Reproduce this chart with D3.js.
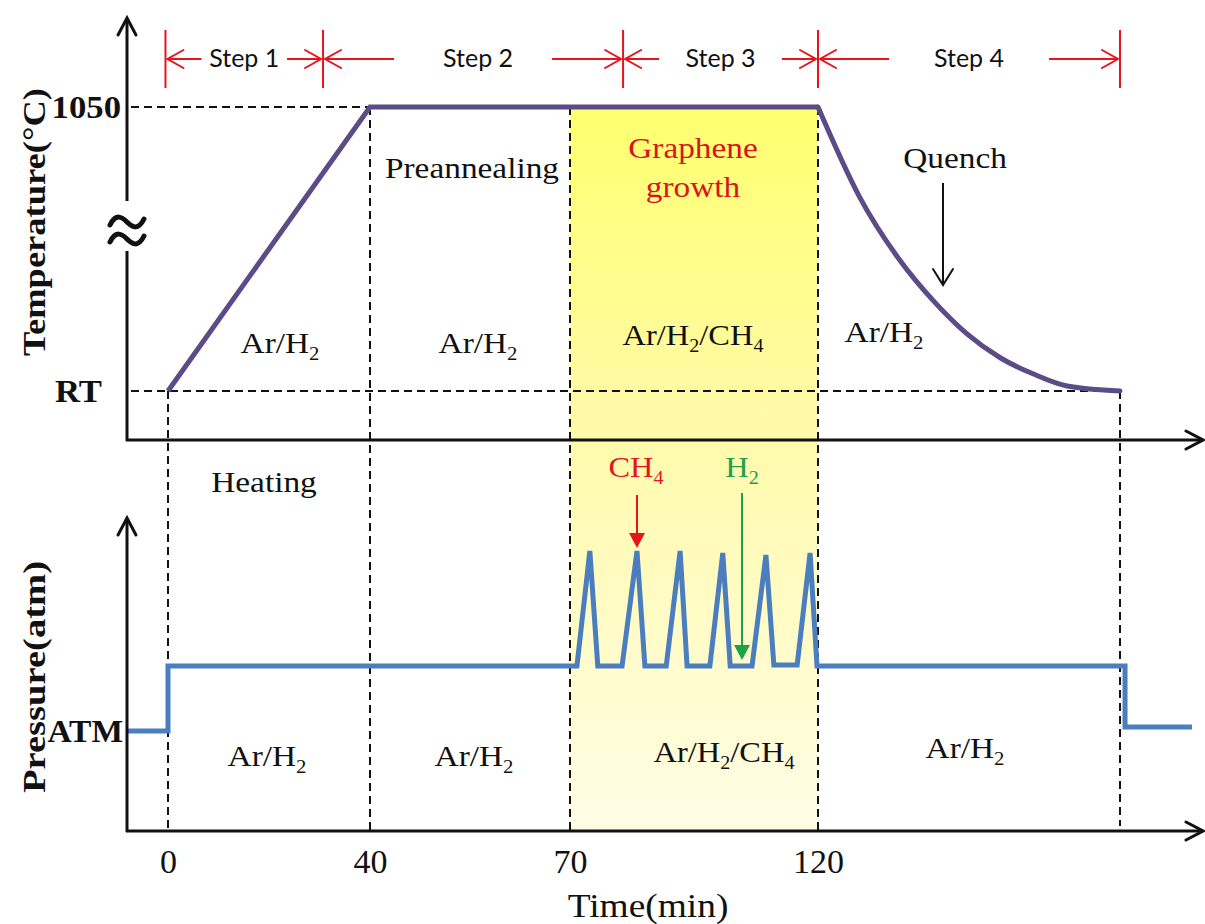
<!DOCTYPE html>
<html>
<head>
<meta charset="utf-8">
<script src="https://cdn.jsdelivr.net/npm/d3@7"></script>
<style>
  body { margin: 0; background: #fff; }
  svg { display: block; }
</style>
</head>
<body>
<div id="chart"></div>
<script>
const WIDTH = 1205;
const HEIGHT = 924;
const SERIF = "'Liberation Serif', 'Times New Roman', serif";
const SANS = "Lato, 'Liberation Sans', sans-serif";
const TEMP_COLOR = "#5b4b86";
const PRESSURE_COLOR = "#4a7ebf";
const STEP_COLOR = "#e8141c";
const INK = "#111";

// time (min). The drawing is not to scale, so the time axis is piecewise linear
const timeTicks = [0, 40, 70, 120];
const phaseTimes = [0, 40, 70, 120, 180];

const stepNames = ["Step 1", "Step 2", "Step 3", "Step 4"];
const stepBounds = [-0.5, 30.7, 80.7, 120, 180];

// temperature (°C)
const tempTicks = [25, 1050];
const tempTickLabels = ["RT", "1050"];
const rampTime = [0, 40, 120];
const rampTemp = [25, 1050, 1050];
const quenchTime = [120, 128.3, 136.3, 142.9, 149.6, 156.2, 162.7, 169.5, 180];
const quenchTemp = [1050, 724, 496, 351, 231, 145, 87, 43, 25];

// pressure, relative units (ATM = 1)
const pressureTime = [-8.1, 0, 0, 71.4, 74.0, 75.6, 80.5, 83.5, 85.1, 89.4, 92.2, 93.6,
    98.2, 100.8, 102.3, 106.7, 109.5, 111.1, 115.8, 118.4, 119.8, 181, 181, 194.3];
const pressureVal = [1, 1, 1.65, 1.65, 2.8, 1.65, 1.65, 2.8, 1.65, 1.65, 2.8, 1.65,
    1.65, 2.78, 1.65, 1.65, 2.76, 1.66, 1.66, 2.78, 1.65, 1.65, 1.04, 1.04];
const atmLevel = 1;

// scales
const x = d3.scaleLinear().domain(phaseTimes).range([168, 370, 570, 818, 1120]);
const yT = d3.scaleLinear().domain([25, 1050]).range([391, 107]);
const yP = d3.scaleLinear().domain([0, 3]).range([831, 531]);

const AXIS_X = 127;
const TOP_BASE = 440;
const BOT_BASE = 831;

const svg = d3.select("#chart").append("svg")
    .attr("width", WIDTH)
    .attr("height", HEIGHT);

const defs = svg.append("defs");
const grad = defs.append("linearGradient")
    .attr("id", "growth")
    .attr("x1", 0).attr("y1", 0).attr("x2", 0).attr("y2", 1);
grad.append("stop").attr("offset", "0%").attr("stop-color", "#ffff6e");
grad.append("stop").attr("offset", "45%").attr("stop-color", "#fffaaa");
grad.append("stop").attr("offset", "100%").attr("stop-color", "#fffde6");

// text helper: "_d" marks a subscript digit, sx stretches the text horizontally
function label(px, py, str, opts) {
    opts = opts || {};
    const g = svg.append("g")
        .attr("transform", "translate(" + px + "," + py + ") scale(" + (opts.sx || 1) + ",1)");
    const t = g.append("text")
        .attr("text-anchor", opts.anchor || "middle")
        .attr("font-family", opts.family || SERIF)
        .attr("font-size", opts.size || 29)
        .attr("font-weight", opts.weight || "normal")
        .attr("fill", opts.color || INK);
    const pieces = str.split(/_(\d)/);
    let down = false;
    pieces.forEach(function (p, i) {
        if (p === "") return;
        const sp = t.append("tspan").text(p);
        if (i % 2 === 1) {
            sp.attr("font-size", "0.62em").attr("dy", 7);
            down = true;
        } else if (down) {
            sp.attr("dy", -7);
            down = false;
        }
    });
    return g;
}

function chevron(tx, ty, dir, len, half, color, width) {
    // dir: "up", "down", "left", "right"
    let pts;
    if (dir === "up") pts = [[tx - half, ty + len], [tx, ty], [tx + half, ty + len]];
    if (dir === "down") pts = [[tx - half, ty - len], [tx, ty], [tx + half, ty - len]];
    if (dir === "left") pts = [[tx + len, ty - half], [tx, ty], [tx + len, ty + half]];
    if (dir === "right") pts = [[tx - len, ty - half], [tx, ty], [tx - len, ty + half]];
    svg.append("path")
        .attr("d", d3.line()(pts))
        .attr("fill", "none")
        .attr("stroke", color)
        .attr("stroke-width", width)
        .attr("stroke-linecap", "round");
}

function filledHead(tx, ty, len, half, color) {
    svg.append("path")
        .attr("d", d3.line()([[tx - half, ty - len], [tx, ty], [tx + half, ty - len]]) + "Z")
        .attr("fill", color);
}

// growth window
svg.append("rect")
    .attr("x", x(70))
    .attr("y", yT(1050))
    .attr("width", x(120) - x(70))
    .attr("height", BOT_BASE - yT(1050))
    .attr("fill", "url(#growth)");

// dashed guide lines
const dashed = svg.append("g")
    .attr("stroke", INK)
    .attr("stroke-width", 2)
    .attr("stroke-dasharray", "8,5")
    .attr("fill", "none");

dashed.append("line")
    .attr("x1", AXIS_X + 4).attr("x2", x(40))
    .attr("y1", yT(1050)).attr("y2", yT(1050));
dashed.append("line")
    .attr("x1", AXIS_X + 4).attr("x2", x(180))
    .attr("y1", yT(25)).attr("y2", yT(25));

dashed.selectAll(".vguide")
    .data(phaseTimes)
    .enter().append("line")
    .attr("class", "vguide")
    .attr("x1", function (d) { return x(d); })
    .attr("x2", function (d) { return x(d); })
    .attr("y1", function (d) { return (d === 0 || d === 180) ? yT(25) : yT(1050); })
    .attr("y2", function (d) { return d === 180 ? BOT_BASE - 5 : BOT_BASE; });

// temperature profile
const tempLine = d3.line()
    .x(function (d) { return x(d[0]); })
    .y(function (d) { return yT(d[1]); });

svg.append("path")
    .attr("d", tempLine(d3.zip(rampTime, rampTemp)))
    .attr("fill", "none")
    .attr("stroke", TEMP_COLOR)
    .attr("stroke-width", 5)
    .attr("stroke-linejoin", "miter");

svg.append("path")
    .attr("d", tempLine.curve(d3.curveMonotoneX)(d3.zip(quenchTime, quenchTemp)))
    .attr("fill", "none")
    .attr("stroke", TEMP_COLOR)
    .attr("stroke-width", 5)
    .attr("stroke-linecap", "round");

// pressure profile
const pressureLine = d3.line()
    .x(function (d) { return x(d[0]); })
    .y(function (d) { return yP(d[1]); });

svg.append("path")
    .attr("d", pressureLine(d3.zip(pressureTime, pressureVal)))
    .attr("fill", "none")
    .attr("stroke", PRESSURE_COLOR)
    .attr("stroke-width", 5)
    .attr("stroke-linejoin", "miter");

// axes
const axes = svg.append("g").attr("stroke", INK).attr("stroke-width", 3);
axes.append("line").attr("x1", AXIS_X).attr("x2", AXIS_X).attr("y1", TOP_BASE + 1).attr("y2", 20);
axes.append("line").attr("x1", AXIS_X - 1).attr("x2", 1201).attr("y1", TOP_BASE).attr("y2", TOP_BASE);
axes.append("line").attr("x1", AXIS_X).attr("x2", AXIS_X).attr("y1", BOT_BASE + 1).attr("y2", 520);
axes.append("line").attr("x1", AXIS_X - 1).attr("x2", 1201).attr("y1", BOT_BASE).attr("y2", BOT_BASE);
chevron(AXIS_X, 18, "up", 17, 9, INK, 3);
chevron(AXIS_X, 518, "up", 17, 9, INK, 3);
chevron(1203, TOP_BASE, "right", 17, 9, INK, 3);
chevron(1203, BOT_BASE, "right", 17, 9, INK, 3);

// axis break
svg.append("rect").attr("x", AXIS_X - 6).attr("y", 201).attr("width", 12).attr("height", 50).attr("fill", "#fff");
[222, 239].forEach(function (cy) {
    const cx = AXIS_X;
    svg.append("path")
        .attr("d", "M" + (cx - 17) + "," + (cy + 3) +
            " C" + (cx - 11) + "," + (cy - 9) + " " + (cx - 5) + "," + (cy - 5) + " " + cx + "," + cy +
            " S" + (cx + 11) + "," + (cy + 9) + " " + (cx + 17) + "," + (cy - 3))
        .attr("fill", "none")
        .attr("stroke", INK)
        .attr("stroke-width", 5)
        .attr("stroke-linecap", "round");
});

// time ticks
const xAxis = svg.append("g")
    .attr("transform", "translate(0," + BOT_BASE + ")")
    .call(d3.axisBottom(x).tickValues(timeTicks).tickSize(0).tickPadding(18));
xAxis.select(".domain").remove();
xAxis.selectAll("text")
    .attr("font-family", SERIF)
    .attr("font-size", 34)
    .attr("fill", INK);

label(648, 917, "Time(min)", { size: 34, sx: 1.1 });

// y labels
tempTicks.forEach(function (v, i) {
    label(i === 0 ? 102 : 121, yT(v) + 11, tempTickLabels[i], { anchor: "end", weight: "bold", size: 31, sx: 1.12 });
});
label(123, yP(atmLevel) + 11, "ATM", { anchor: "end", weight: "bold", size: 31, sx: 1.08 });

svg.append("text")
    .attr("transform", "translate(45,222) rotate(-90)")
    .attr("text-anchor", "middle")
    .attr("font-family", SERIF)
    .attr("font-weight", "bold")
    .attr("font-size", 31)
    .attr("textLength", 268)
    .attr("lengthAdjust", "spacingAndGlyphs")
    .attr("fill", INK)
    .text("Temperature(\u00B0C)");

svg.append("text")
    .attr("transform", "translate(45,677) rotate(-90)")
    .attr("text-anchor", "middle")
    .attr("font-family", SERIF)
    .attr("font-weight", "bold")
    .attr("font-size", 31)
    .attr("textLength", 232)
    .attr("lengthAdjust", "spacingAndGlyphs")
    .attr("fill", INK)
    .text("Pressure(atm)");

// steps
const steps = svg.append("g");
stepBounds.forEach(function (t) {
    steps.append("line")
        .attr("x1", x(t)).attr("x2", x(t))
        .attr("y1", 30).attr("y2", 88)
        .attr("stroke", STEP_COLOR)
        .attr("stroke-width", 2);
});
stepNames.forEach(function (name, i) {
    const l = x(stepBounds[i]);
    const r = x(stepBounds[i + 1]);
    const len = (r - l) > 250 ? 69 : 34;
    const ay = 59;
    steps.append("line").attr("x1", l + 2).attr("x2", l + 2 + len).attr("y1", ay).attr("y2", ay)
        .attr("stroke", STEP_COLOR).attr("stroke-width", 2);
    steps.append("line").attr("x1", r - 2 - len).attr("x2", r - 2).attr("y1", ay).attr("y2", ay)
        .attr("stroke", STEP_COLOR).attr("stroke-width", 2);
    chevron(l + 2, ay, "left", 16, 9, STEP_COLOR, 2);
    chevron(r - 2, ay, "right", 16, 9, STEP_COLOR, 2);
    label((l + r) / 2 + (i === 1 ? 5 : 0), 67, name, { family: SANS, size: 25 });
});

// annotations, top panel
label(472, 178, "Preannealing", { sx: 1.15 });
label(693, 158, "Graphene", { sx: 1.15, color: "#d8141c" });
label(693, 197, "growth", { sx: 1.15, color: "#d8141c" });
label(955, 168, "Quench", { sx: 1.15 });
svg.append("line").attr("x1", 943).attr("x2", 943).attr("y1", 183).attr("y2", 284)
    .attr("stroke", INK).attr("stroke-width", 2);
chevron(943, 285, "down", 16, 10, INK, 2);

label(280, 353, "Ar/H_2", { sx: 1.15 });
label(478, 353, "Ar/H_2", { sx: 1.15 });
label(693, 345, "Ar/H_2/CH_4", { sx: 1.12 });
label(884, 342, "Ar/H_2", { sx: 1.15 });

// annotations, bottom panel
label(264, 492, "Heating", { sx: 1.15 });
label(636, 477, "CH_4", { sx: 1.12, color: "#e8141c" });
svg.append("line").attr("x1", 637).attr("x2", 637).attr("y1", 495).attr("y2", 535)
    .attr("stroke", "#e8141c").attr("stroke-width", 2);
filledHead(637, 548, 15, 8, "#e8141c");
label(742, 477, "H_2", { sx: 1.12, color: "#1fa04a" });
svg.append("line").attr("x1", 742).attr("x2", 742).attr("y1", 493).attr("y2", 647)
    .attr("stroke", "#1fa04a").attr("stroke-width", 2);
filledHead(742, 660, 15, 8, "#1fa04a");

label(267, 766, "Ar/H_2", { sx: 1.15 });
label(474, 766, "Ar/H_2", { sx: 1.15 });
label(724, 762, "Ar/H_2/CH_4", { sx: 1.12 });
label(965, 758, "Ar/H_2", { sx: 1.15 });
</script>
</body>
</html>
